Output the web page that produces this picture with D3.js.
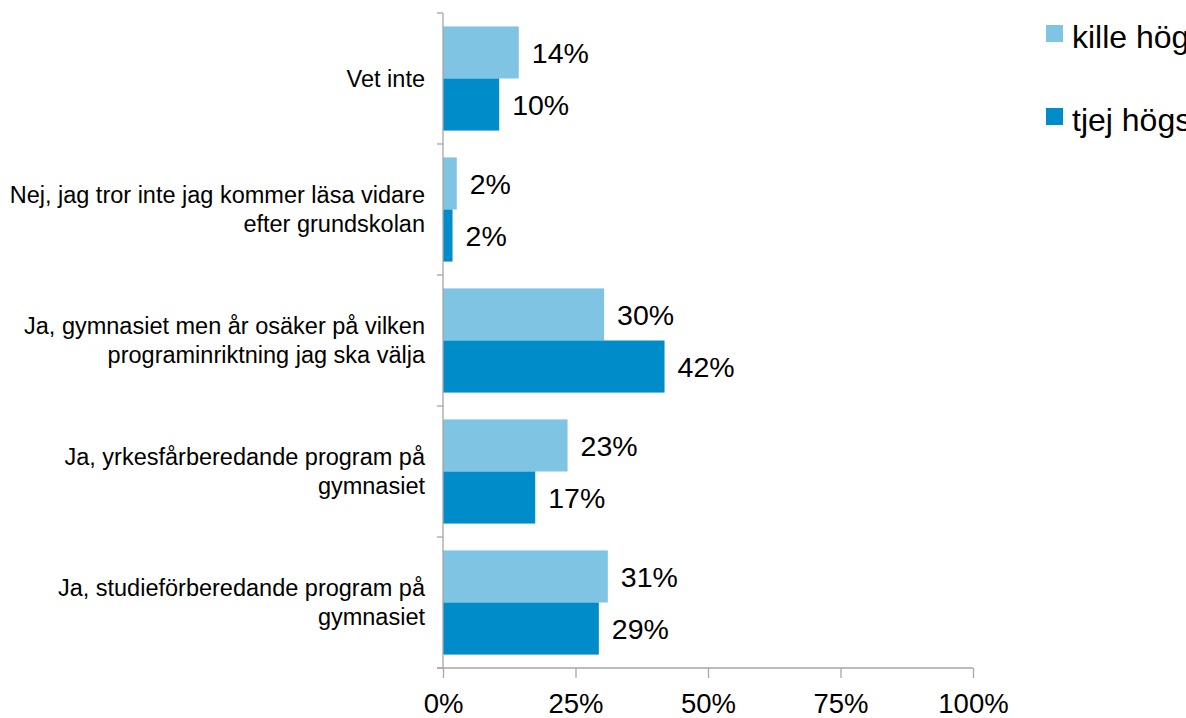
<!DOCTYPE html>
<html>
<head>
<meta charset="utf-8">
<script src="https://cdn.jsdelivr.net/npm/d3@7"></script>
<style>
  body { margin: 0; background: #fff; overflow: hidden; }
  svg { font-family: "Liberation Sans", Arial, sans-serif; }
</style>
</head>
<body>
<div class="chart"></div>
<script>
// categories from top to bottom
const categories = [
  ["Vet inte"],
  ["Nej, jag tror inte jag kommer läsa vidare", "efter grundskolan"],
  ["Ja, gymnasiet men år osäker på vilken", "programinriktning jag ska välja"],
  ["Ja, yrkesfårberedande program på", "gymnasiet"],
  ["Ja, studieförberedande program på", "gymnasiet"]
]
const seriesNames = ["kille högstadiet", "tjej högstadiet"]
const killeValues = [14.3, 2.6, 30.4, 23.5, 31.1]
const tjejValues = [10.6, 1.8, 41.8, 17.4, 29.4]
const killeLabels = ["14%", "2%", "30%", "23%", "31%"]
const tjejLabels = ["10%", "2%", "42%", "17%", "29%"]
const tickValues = [0, 25, 50, 75, 100]
const colors = ["#7fc4e2", "#008cc8"]

const width = 1186, height = 718

const svg = d3.select(".chart").append("svg")
  .attr("width", width)
  .attr("height", height)

let x = d3.scaleLinear().domain([0, 100]).range([443, 973])
let y = d3.scaleBand()
  .domain(d3.range(categories.length))
  .range([13, 668])
  .paddingInner(0.205)
  .paddingOuter(0.1025)
let ySub = d3.scaleBand().domain([0, 1]).range([0, y.bandwidth()])

// bars
const rows = categories.map((c, i) => ({
  i: i,
  vals: [
    { v: killeValues[i], lab: killeLabels[i] },
    { v: tjejValues[i], lab: tjejLabels[i] }
  ]
}))

const g = svg.selectAll(".row")
  .data(rows)
  .enter().append("g")
  .attr("transform", d => "translate(0," + y(d.i) + ")")

g.selectAll("rect")
  .data(d => d.vals)
  .enter().append("rect")
  .attr("x", x(0))
  .attr("y", (d, j) => ySub(j))
  .attr("width", d => x(d.v) - x(0))
  .attr("height", ySub.bandwidth())
  .attr("fill", (d, j) => colors[j])

g.selectAll(".val")
  .data(d => d.vals)
  .enter().append("text")
  .attr("x", d => x(d.v) + 13)
  .attr("y", (d, j) => ySub(j) + ySub.bandwidth() / 2)
  .attr("dy", "0.36em")
  .attr("font-size", 28.5)
  .attr("fill", "#000")
  .text(d => d.lab)

// y axis line + ticks at band edges
const step = y.step()
const edges = d3.range(categories.length + 1).map(k => 13 + k * step)
svg.append("line")
  .attr("x1", x(0)).attr("x2", x(0))
  .attr("y1", 13).attr("y2", 668)
  .attr("stroke", "#a6a6a6").attr("stroke-width", 1.3)
svg.selectAll(".ytick")
  .data(edges)
  .enter().append("line")
  .attr("x1", x(0) - 6).attr("x2", x(0))
  .attr("y1", d => d).attr("y2", d => d)
  .attr("stroke", "#a6a6a6").attr("stroke-width", 1.3)

// category labels
const labels = svg.selectAll(".cat")
  .data(categories)
  .enter().append("text")
  .attr("text-anchor", "end")
  .attr("font-size", 23.5)
  .attr("fill", "#000")
  .attr("transform", (d, i) => "translate(425," + (y(i) + y.bandwidth() / 2) + ")")

labels.selectAll("tspan")
  .data(d => d.map((t, k) => ({ t: t, k: k, n: d.length })))
  .enter().append("tspan")
  .attr("x", 0)
  .attr("y", d => (d.k - (d.n - 1) / 2) * 28.5)
  .attr("dy", "0.35em")
  .text(d => d.t)

// x axis
const xAxis = svg.append("g")
  .attr("transform", "translate(0,668)")
  .call(d3.axisBottom(x).tickValues(tickValues).tickSize(10).tickPadding(15).tickFormat(d => d + "%"))
xAxis.select(".domain").attr("stroke", "#a6a6a6").attr("stroke-width", 1.3)
  .attr("d", "M" + (x(0) - 6) + ",0H" + x(100) + "")
xAxis.selectAll(".tick line").attr("stroke", "#a6a6a6").attr("stroke-width", 1.3)
xAxis.selectAll(".tick text")
  .attr("font-family", "Liberation Sans, Arial, sans-serif")
  .attr("font-size", 27.5)
  .attr("fill", "#000")

// legend
const legend = svg.selectAll(".legend")
  .data(seriesNames)
  .enter().append("g")
  .attr("transform", (d, i) => "translate(1046," + (25 + i * 83) + ")")
legend.append("rect")
  .attr("width", 17).attr("height", 17)
  .attr("fill", (d, i) => colors[i])
legend.append("text")
  .attr("x", 26)
  .attr("y", 23)
  .attr("font-size", 32)
  .attr("fill", "#000")
  .text(d => d)
</script>
</body>
</html>
